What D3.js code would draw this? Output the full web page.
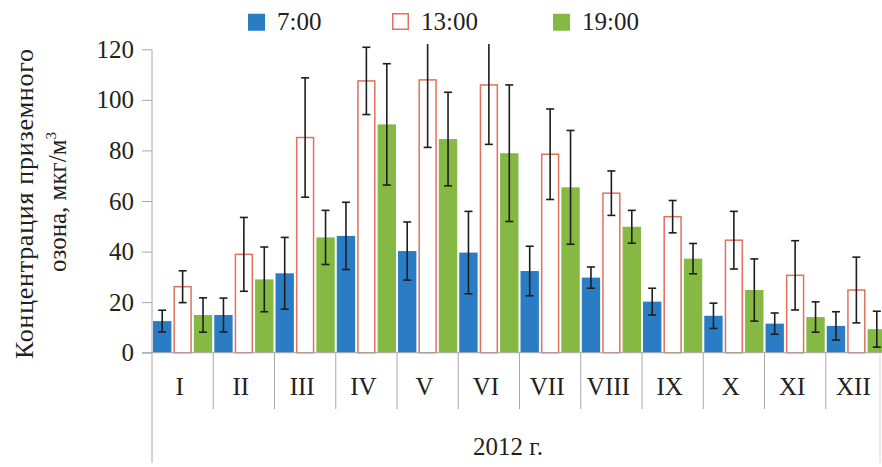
<!DOCTYPE html>
<html><head><meta charset="utf-8">
<script src="https://cdn.jsdelivr.net/npm/d3@7/dist/d3.min.js"></script>
<style>
body{margin:0;background:#fff;}
svg{display:block;}
svg text{font-family:"Liberation Serif",Tinos,"Times New Roman",Times,"DejaVu Serif",serif !important;fill:#231f20;}
</style></head>
<body>
<svg id="c" width="882" height="467"></svg>
<script>
const months = ["I","II","III","IV","V","VI","VII","VIII","IX","X","XI","XII"];
const seriesNames = ["7:00","13:00","19:00"];
const v7  = [12.5,14.9,31.4,46.2,40.2,39.6,32.3,29.7,20.2,14.6,11.5,10.6];
const e7  = [4.3,6.7,14.2,13.3,11.5,16.3,9.8,4.2,5.3,5.0,4.2,5.6];
const v13 = [26.1,38.9,85.1,107.5,107.9,105.9,78.5,63.1,53.8,44.5,30.6,24.8];
const e13 = [6.3,14.6,23.6,13.3,26.7,23.5,17.9,8.8,6.4,11.4,13.7,13.0];
const v19 = [14.9,29.0,45.6,90.3,84.5,78.9,65.4,49.8,37.2,24.8,14.1,9.3];
const e19 = [6.8,12.8,10.7,24.0,18.5,27.0,22.5,6.5,6.0,12.3,6.0,7.1];
const yTicks = [0,20,40,60,80,100,120];
const yTitle = ["Концентрация приземного","озона, мкг/м"];
const xTitle = "2012 г.";

const svg = d3.select("#c");
const blue="#2a7dc5", green="#86b844", red="#e2705f", axisCol="#a8a8a8";
const FONT = '"Liberation Serif", Tinos, "Times New Roman", Times, "DejaVu Serif", serif';

const x0 = d3.scaleBand().domain(months).range([152, 152+12*61.25]).padding(0);
const x1 = d3.scaleBand().domain(seriesNames).range([0, x0.bandwidth()]).paddingInner(0.1).paddingOuter(0.05);
const y = d3.scaleLinear().domain([0,120]).range([352.7, 49.3]);

const data = [];
months.forEach((m,i)=>{
  data.push({m, s:"7:00", v:v7[i], e:e7[i]});
  data.push({m, s:"13:00", v:v13[i], e:e13[i]});
  data.push({m, s:"19:00", v:v19[i], e:e19[i]});
});

svg.append("defs").append("clipPath").attr("id","clip")
  .append("rect").attr("x",140).attr("y",44).attr("width",760).attr("height",320);

const bars = svg.append("g");
bars.selectAll("rect").data(data).join("rect")
  .attr("x", d=> x0(d.m)+x1(d.s) + (d.s==="13:00"?0.75:0))
  .attr("width", d=> x1.bandwidth() - (d.s==="13:00"?1.5:0))
  .attr("y", d=> y(d.v))
  .attr("height", d=> y(0)-y(d.v))
  .attr("fill", d=> d.s==="7:00"?blue:(d.s==="19:00"?green:"#fff"))
  .attr("stroke", d=> d.s==="13:00"?red:"none")
  .attr("stroke-width", 1.5);

const eg = svg.append("g").attr("clip-path","url(#clip)").attr("stroke","#1e1e1e").attr("stroke-width",1.6);
data.forEach(d=>{
  const cx = x0(d.m)+x1(d.s)+x1.bandwidth()/2;
  const yt = y(d.v+d.e), yb = y(d.v-d.e);
  eg.append("line").attr("x1",cx).attr("x2",cx).attr("y1",yt).attr("y2",yb);
  eg.append("line").attr("x1",cx-4).attr("x2",cx+4).attr("y1",yt).attr("y2",yt);
  eg.append("line").attr("x1",cx-4).attr("x2",cx+4).attr("y1",yb).attr("y2",yb);
});

const yAxis = d3.axisLeft(y).tickValues(yTicks).tickSize(10).tickPadding(8);
const ya = svg.append("g").attr("transform","translate(152,0)").call(yAxis).attr("font-family",FONT).attr("font-size",25);
ya.select(".domain").remove();
ya.selectAll(".tick line").attr("stroke",axisCol);
ya.selectAll(".tick text").attr("fill","#231f20");
svg.append("line").attr("x1",152).attr("x2",152).attr("y1",49.3).attr("y2",463).attr("stroke",axisCol);

svg.append("line").attr("x1",142).attr("x2",882).attr("y1",y(0)).attr("y2",y(0)).attr("stroke",axisCol);

months.forEach((m,i)=>{
  if(i>0) svg.append("line").attr("x1",x0(m)).attr("x2",x0(m)).attr("y1",y(0)).attr("y2",409).attr("stroke",axisCol);
  svg.append("text").attr("x",x0(m)+x0.bandwidth()/2-3).attr("y",395)
    .attr("text-anchor","middle").attr("font-size",25).attr("font-family",FONT).text(m);
});
svg.append("line").attr("x1",880).attr("x2",880).attr("y1",y(0)).attr("y2",463).attr("stroke","#d8d8d8");

svg.append("text").attr("x",508).attr("y",455).attr("text-anchor","middle").attr("font-size",25).attr("font-family",FONT).text(xTitle);

const yt = svg.append("g").attr("font-family",FONT);
yt.append("text").attr("transform","translate(33,204) rotate(-90)").attr("text-anchor","middle").attr("font-size",26)
  .attr("textLength",310).attr("lengthAdjust","spacing").text(yTitle[0]);
const t2 = yt.append("text").attr("transform","translate(66,202) rotate(-90)").attr("text-anchor","middle").attr("font-size",25);
t2.append("tspan").text(yTitle[1]);
t2.append("tspan").attr("font-size",15).attr("dy",-10).text("3");

const lx = [248,392,553];
seriesNames.forEach((s,i)=>{
  svg.append("rect").attr("x",lx[i]+(s==="13:00"?0.75:0)).attr("y",13.75).attr("width",s==="13:00"?15.5:17).attr("height",s==="13:00"?15.5:17)
    .attr("fill", s==="7:00"?blue:(s==="19:00"?green:"#fff"))
    .attr("stroke", s==="13:00"?red:"none").attr("stroke-width",1.5);
  svg.append("text").attr("x",lx[i]+29).attr("y",30).attr("font-size",25).attr("font-family",FONT).text(s);
});
</script>
</body></html>
